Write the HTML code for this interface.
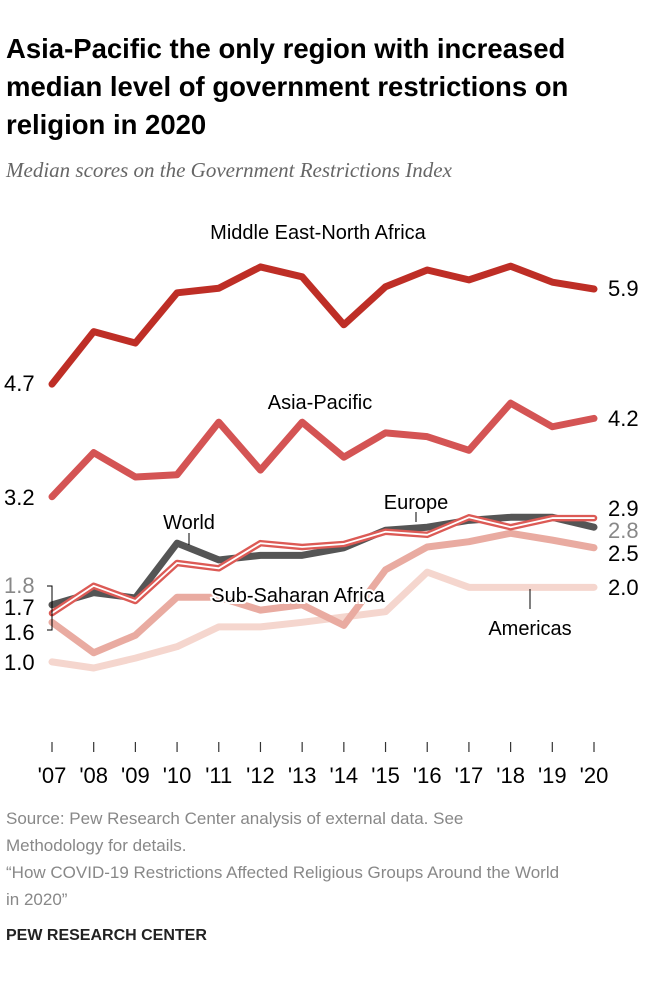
<!DOCTYPE html>
<html><head><meta charset="utf-8"><style>
body{margin:0;background:#fff;width:660px;height:986px;overflow:hidden;font-family:"Liberation Sans",sans-serif}
#title{position:absolute;left:6px;top:30px;width:650px;font-weight:bold;font-size:27.5px;line-height:38px;color:#000;margin:0}
#sub{position:absolute;left:6px;top:158px;font-family:"Liberation Serif",serif;font-style:italic;font-size:21px;color:#666}
.foot{position:absolute;left:6px;font-size:17px;color:#888;line-height:27px;white-space:nowrap}
svg{position:absolute;left:0;top:0}
</style></head><body>
<h1 id="title">Asia-Pacific the only region with increased median level of government restrictions on religion in 2020</h1>
<div id="sub">Median scores on the Government Restrictions Index</div>
<svg id="chart" width="660" height="986"></svg>
<div class="foot" style="top:805px">Source: Pew Research Center analysis of external data. See<br>Methodology for details.<br>“How COVID-19 Restrictions Affected Religious Groups Around the World<br>in 2020”</div>
<div style="position:absolute;left:6px;top:927px;font-size:16px;font-weight:bold;color:#222">PEW RESEARCH CENTER</div>
<script>
const years=["'07","'08","'09","'10","'11","'12","'13","'14","'15","'16","'17","'18","'19","'20"];
const mena=[4.65,5.34,5.19,5.85,5.91,6.19,6.06,5.43,5.93,6.15,6.02,6.2,5.99,5.9];
const asia=[3.17,3.75,3.43,3.46,4.15,3.52,4.15,3.69,4.01,3.96,3.78,4.4,4.09,4.2];
const world=[1.75,1.91,1.84,2.56,2.34,2.4,2.4,2.5,2.73,2.77,2.86,2.9,2.9,2.77];
const europe=[1.64,2.0,1.8,2.3,2.23,2.56,2.51,2.55,2.71,2.67,2.9,2.77,2.89,2.89];
const ssa=[1.52,1.12,1.35,1.85,1.85,1.68,1.75,1.48,2.21,2.51,2.58,2.69,2.6,2.5];
const americas=[1.0,0.92,1.05,1.2,1.46,1.46,1.52,1.59,1.66,2.18,1.98,1.98,1.98,1.98];
const svg=document.getElementById('chart');const NS='http://www.w3.org/2000/svg';
const x=i=>52+i*(594-52)/13;const y=v=>738-v*76.1;
function mk(t,a){const e=document.createElementNS(NS,t);for(const k in a)e.setAttribute(k,a[k]);svg.appendChild(e);return e;}
function txt(s,xx,yy,o){const e=mk('text',Object.assign({x:xx,y:yy,'font-family':'Liberation Sans, sans-serif','font-size':20,fill:'#000'},o||{}));e.textContent=s;return e;}
years.forEach((yr,i)=>{const t=mk('line',{x1:x(i),x2:x(i),y1:742,y2:752,stroke:'#333','stroke-width':1.2});

const l=txt(yr,x(i),783,{'text-anchor':'middle','font-size':22});
});
function line(d,c,w,name){const p=mk('polyline',{points:d.map((v,i)=>x(i)+','+y(v)).join(' '),fill:'none',stroke:c,'stroke-width':w,'stroke-linejoin':'round','stroke-linecap':'round'});
return p;}
line(americas,'#f5d6ce',7,'americas-line');
line(ssa,'#e9aba1',7,'sub-saharan-africa-line');
line(world,'#555555',7,'world-line');
line(europe,'#dc5a55',6.5,'europe-line');
line(europe,'#ffffff',1.8,'europe-line-inner');
line(asia,'#d45454',7,'asia-pacific-line');
line(mena,'#be2e26',7,'middle-east-north-africa-line');
function lab(s,xx,yy,name,o){const e=txt(s,xx,yy,o);}
const halo={'text-anchor':'middle',stroke:'#fff','stroke-width':4,'paint-order':'stroke'};
lab('Middle East-North Africa',318,239,'mena-label',halo);
lab('Asia-Pacific',320,409,'asia-pacific-label',halo);
lab('Europe',416,509,'europe-label',halo);
lab('World',189,529,'world-label',halo);
lab('Sub-Saharan Africa',298,602,'ssa-label',halo);
lab('Americas',530,635,'americas-label',halo);
const leader=[[416,512,416,522],[189,533,189,545],[530,589,530,609]];
leader.forEach(a=>{const l=mk('line',{x1:a[0],y1:a[1],x2:a[2],y2:a[3],stroke:'#000','stroke-width':1});});
const br=mk('polyline',{points:'47,586 52,586 52,630 47,630',fill:'none',stroke:'#000','stroke-width':1});
const vs={'font-size':22};
lab('4.7',4,391,'mena-start-value',vs);lab('5.9',608,296,'mena-end-value',vs);
lab('3.2',4,505,'asia-start-value',vs);lab('4.2',608,426,'asia-end-value',vs);
lab('1.8',4,593,'world-start-value',{'font-size':22,fill:'#888'});
lab('1.7',4,615,'europe-start-value',vs);lab('1.6',4,640,'ssa-start-value',vs);lab('1.0',4,670,'americas-start-value',vs);
lab('2.9',608,516,'europe-end-value',vs);lab('2.8',608,538,'world-end-value',{'font-size':22,fill:'#888'});
lab('2.5',608,561,'ssa-end-value',vs);lab('2.0',608,595,'americas-end-value',vs);
</script>
</body></html>
